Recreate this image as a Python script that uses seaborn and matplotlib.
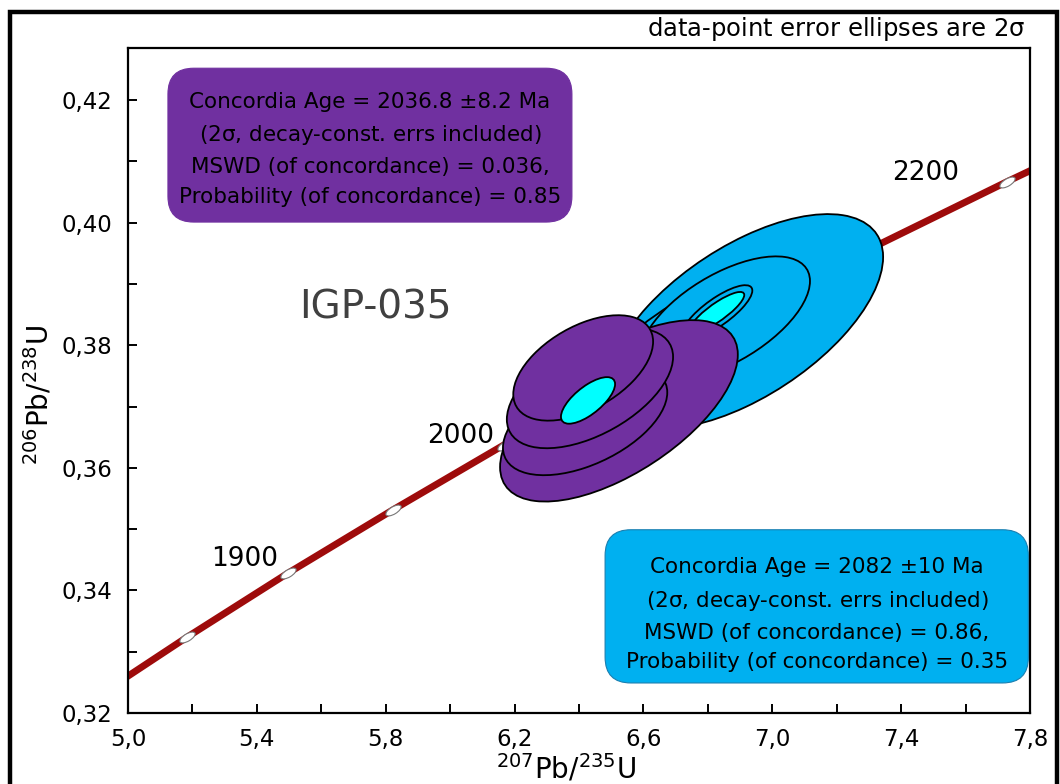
import matplotlib
matplotlib.use("Agg")
import matplotlib.pyplot as plt
import matplotlib.patches as mpatches
from matplotlib.path import Path
from matplotlib.transforms import Affine2D
import numpy as np
import pandas as pd
import seaborn as sns

# concordia curve, ages in Ma, ratios
conc_age = [1800, 1850, 1900, 1950, 2000, 2050, 2100, 2150, 2200, 2250]
conc_x = [4.887, 5.184, 5.496, 5.824, 6.169, 6.530, 6.910, 7.310, 7.729, 8.170]
conc_y = [0.3221, 0.3324, 0.3428, 0.3532, 0.3638, 0.3744, 0.3851, 0.3959, 0.4067, 0.4177]
marked_ages = [1850, 1900, 1950, 2000, 2050, 2100, 2150, 2200]
labelled_ages = [1900, 2000, 2200]

# blue group analyses (2 sigma half widths, error correlation), drawn in this order
blue_x = [6.916, 6.745, 6.853, 6.829]
blue_y = [0.3839, 0.3825, 0.3844, 0.3854]
blue_sx = [0.428, 0.279, 0.264, 0.109]
blue_sy = [0.0175, 0.0098, 0.0101, 0.0044]
blue_rho = [0.60, 0.80, 0.60, 0.80]

# purple group analyses, drawn in this order
purple_x = [6.524, 6.419, 6.434, 6.413]
purple_y = [0.3693, 0.3678, 0.3730, 0.3763]
purple_sx = [0.369, 0.255, 0.258, 0.217]
purple_sy = [0.0148, 0.0090, 0.0098, 0.0086]
purple_rho = [0.62, 0.50, 0.52, 0.50]

# concordia age ellipses (purple group, blue group)
cage_x = [6.428, 6.829]
cage_y = [0.3710, 0.3854]
cage_sx = [0.084, 0.084]
cage_sy = [0.0038, 0.0033]
cage_rho = [0.70, 0.85]

x_ticks = [5.0, 5.4, 5.8, 6.2, 6.6, 7.0, 7.4, 7.8]
x_tick_labels = ['5,0', '5,4', '5,8', '6,2', '6,6', '7,0', '7,4', '7,8']
y_ticks = [0.32, 0.34, 0.36, 0.38, 0.40, 0.42]
y_tick_labels = ['0,32', '0,34', '0,36', '0,38', '0,40', '0,42']

purple_text = ("Concordia Age = 2036.8 \u00b18.2 Ma\n(2$\\sigma$, decay-const. errs included)\n"
               "MSWD (of concordance) = 0.036,\nProbability (of concordance) = 0.85")
blue_text = ("Concordia Age = 2082 \u00b110 Ma\n(2$\\sigma$, decay-const. errs included)\n"
             "MSWD (of concordance) = 0.86,\nProbability (of concordance) = 0.35")

PURPLE = '#7030A0'
BLUE = '#00B0F0'
CYAN = '#00FFFF'
DARKRED = '#9E0B0B'

sns.set_style('ticks')
plt.rcParams['font.family'] = ['DejaVu Sans']
plt.rcParams['mathtext.default'] = 'regular'
plt.rcParams['text.color'] = 'black'
plt.rcParams['axes.labelcolor'] = 'black'
plt.rcParams['xtick.color'] = 'black'
plt.rcParams['ytick.color'] = 'black'


def error_ellipse(ax, x, y, sx, sy, rho, color, z):
    cov = np.array([[sx * sx, rho * sx * sy], [rho * sx * sy, sy * sy]])
    vals, vecs = np.linalg.eigh(cov)
    ang = np.degrees(np.arctan2(vecs[1, 1], vecs[0, 1]))
    e = mpatches.Ellipse((x, y), 2 * np.sqrt(vals[1]), 2 * np.sqrt(vals[0]), angle=ang,
                         facecolor=color, edgecolor='black', linewidth=1.3, zorder=z)
    ax.add_patch(e)


def rounded_box(ax, x0, x1, y0, y1, color, edge):
    # keep corners circular although x and y units differ a lot
    aspect = (ax.get_ylim()[1] - ax.get_ylim()[0]) / (ax.get_xlim()[1] - ax.get_xlim()[0]) * 902 / 665
    box = mpatches.FancyBboxPatch((x0, y0), x1 - x0, y1 - y0,
                                  boxstyle='round,pad=0,rounding_size=0.08',
                                  mutation_aspect=aspect, facecolor=color, edgecolor=edge,
                                  linewidth=0.8, zorder=19)
    ax.add_patch(box)


fig = plt.figure(figsize=(10.6, 7.84), dpi=100)
ax = fig.add_axes([128 / 1060, 1 - 713 / 784, 902 / 1060, 665 / 784])
ax.set_xlim(5.0, 7.8)
ax.set_ylim(0.32, 0.4285)

conc = pd.DataFrame({'age': conc_age, 'x': conc_x, 'y': conc_y})
sns.lineplot(data=conc, x='x', y='y', sort=False, estimator=None, color=DARKRED,
             linewidth=5, ax=ax, zorder=2)

# age ticks on the concordia
tick_marker = Path.unit_circle().transformed(Affine2D().scale(1.0, 0.42).rotate_deg(31))
marks = conc[conc['age'].isin(marked_ages)]
sns.scatterplot(data=marks, x='x', y='y', marker=tick_marker, s=130, color='white',
                edgecolor='#777777', linewidth=0.8, ax=ax, zorder=3)

label_offsets = {1900: (-31, 10), 2000: (-32, 6), 2200: (-59, 6)}
for age in labelled_ages:
    row = conc[conc['age'] == age].iloc[0]
    ax.annotate(str(age), (row['x'], row['y']), xytext=label_offsets[age],
                textcoords='offset points', ha='center', va='center', fontsize=19, zorder=4)

z = 5
for i in range(len(blue_x)):
    error_ellipse(ax, blue_x[i], blue_y[i], blue_sx[i], blue_sy[i], blue_rho[i], BLUE, z)
    z += 1
error_ellipse(ax, cage_x[1], cage_y[1], cage_sx[1], cage_sy[1], cage_rho[1], CYAN, z)
z += 1
for i in range(len(purple_x)):
    error_ellipse(ax, purple_x[i], purple_y[i], purple_sx[i], purple_sy[i], purple_rho[i], PURPLE, z)
    z += 1
error_ellipse(ax, cage_x[0], cage_y[0], cage_sx[0], cage_sy[0], cage_rho[0], CYAN, z)

ax.set_xticks(x_ticks)
ax.set_xticklabels(x_tick_labels)
ax.set_xticks(np.arange(5.2, 7.8, 0.4), minor=True)
ax.set_yticks(y_ticks)
ax.set_yticklabels(y_tick_labels)
ax.set_yticks(np.arange(0.33, 0.43, 0.02), minor=True)
ax.tick_params(which='both', direction='in', length=6.5, width=1.4, top=False, right=False)
ax.tick_params(axis='x', which='major', labelsize=16.5, pad=11)
ax.tick_params(axis='y', which='major', labelsize=16.5, pad=11)
for sp in ax.spines.values():
    sp.set_visible(True)
    sp.set_linewidth(1.6)
    sp.set_color('black')

ax.set_xlabel('$^{207}$Pb/$^{235}$U', fontsize=20)
ax.xaxis.set_label_coords(0.485, -0.06)
ax.set_ylabel('$^{206}$Pb/$^{238}$U', fontsize=20)
ax.yaxis.set_label_coords(-0.081, 0.478)

rounded_box(ax, 5.124, 6.378, 0.4001, 0.4252, PURPLE, PURPLE)
ax.text(5.751, 0.4120, purple_text, ha='center', va='center', fontsize=15.5, linespacing=1.62, zorder=20)
rounded_box(ax, 6.481, 7.795, 0.3249, 0.3499, BLUE, '#1A7FB0')
ax.text(7.139, 0.3360, blue_text, ha='center', va='center', fontsize=15.5, linespacing=1.62, zorder=20)

ax.text(5.767, 0.3862, 'IGP-035', ha='center', va='center', fontsize=28, color='#404040')
ax.text(0.9945, 1.018, 'data-point error ellipses are 2$\\sigma$', transform=ax.transAxes,
        ha='right', va='baseline', fontsize=17.5)

fig.patches.append(mpatches.Rectangle((0.0094, -0.05), 0.9878, 1.0353, transform=fig.transFigure,
                                      fill=False, edgecolor='black', linewidth=3.2))

fig.savefig('out.png', dpi=100)
